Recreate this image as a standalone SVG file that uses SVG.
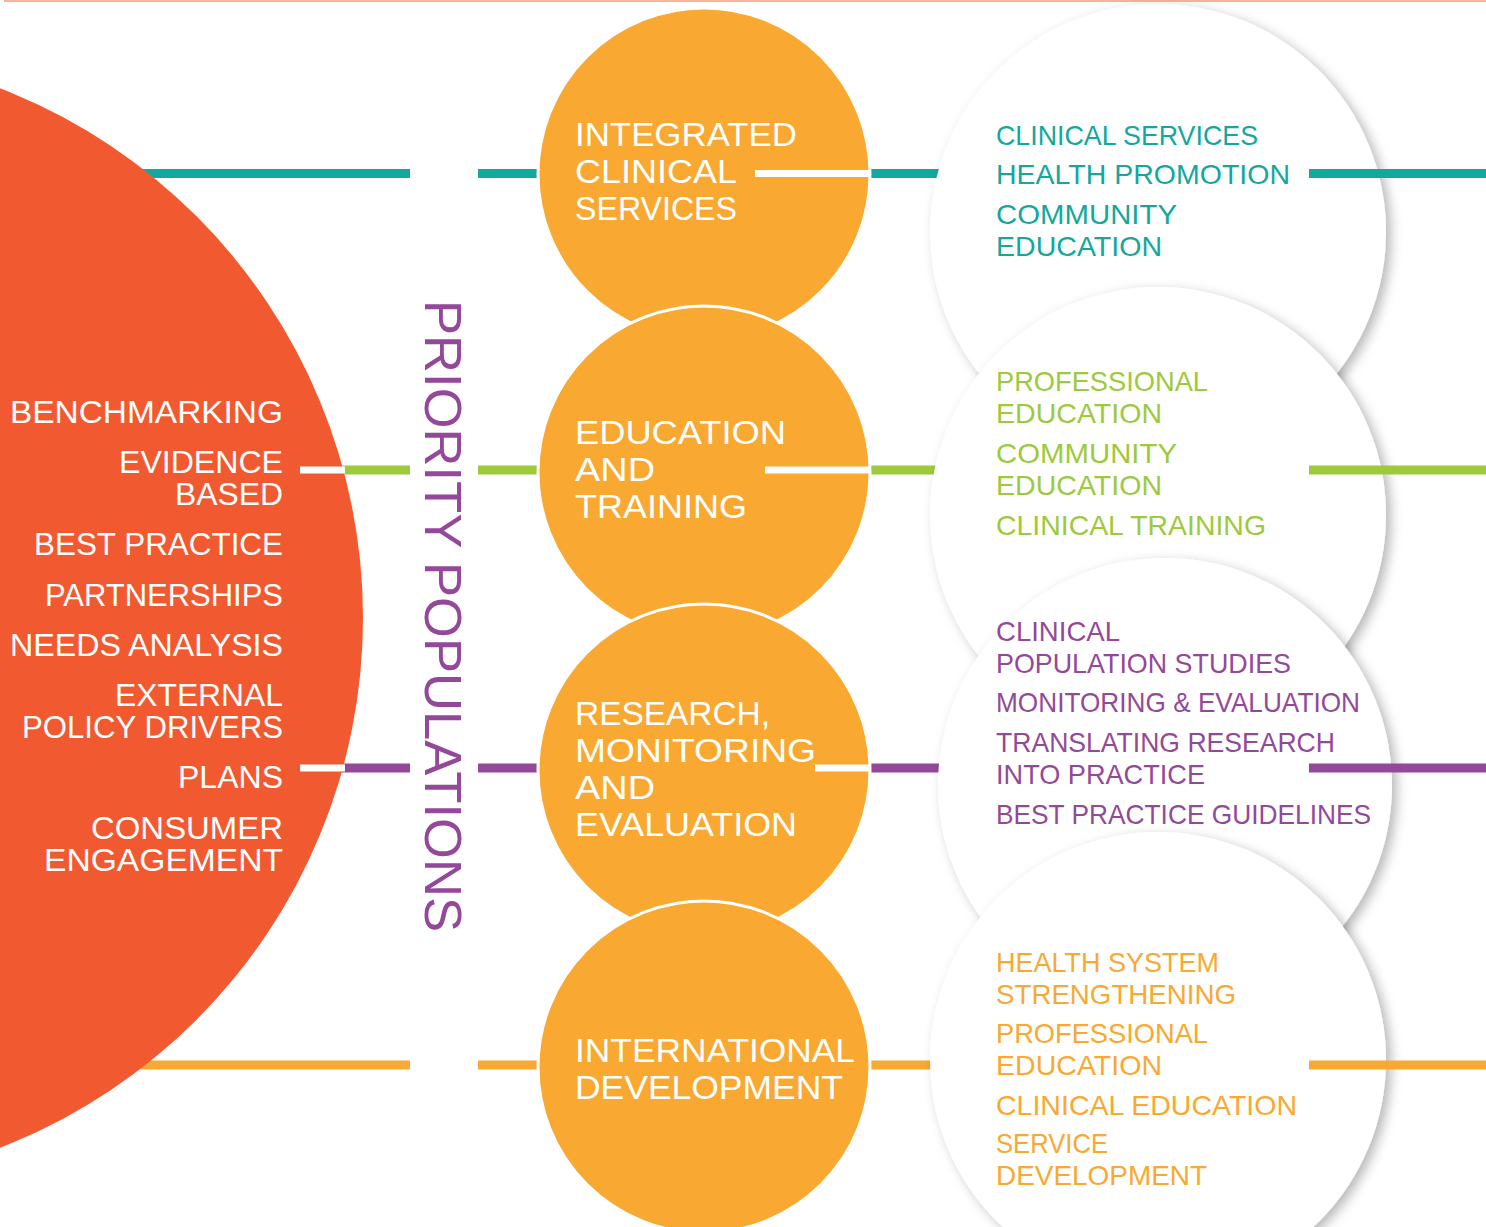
<svg xmlns="http://www.w3.org/2000/svg" width="1486" height="1227" viewBox="0 0 1486 1227">
<defs>
<filter id="sh" x="-20%" y="-20%" width="140%" height="140%">
<feDropShadow dx="5" dy="4" stdDeviation="6" flood-color="#000" flood-opacity="0.28"/>
</filter>
<style>
text{font-family:"Liberation Sans",Arial,sans-serif;}
.lt{font-size:32px;fill:#fff;text-anchor:end;}
.ot{font-size:34px;fill:#fff;}
.rt{font-size:28px;}
.teal{fill:#13a89e;} .green{fill:#9dca3c;} .purple{fill:#94489a;} .orange{fill:#f9a931;}
.ln{stroke-width:9;fill:none;}
.wl{stroke:#fff;stroke-width:7;}
.oc{fill:#f9a931;stroke:#fff;stroke-width:3;}
.wc{fill:#fff;filter:url(#sh);}
</style>
</defs>
<rect width="1486" height="1227" fill="#fff"/>
<line x1="4" y1="1" x2="1486" y2="1" stroke="#f5b49b" stroke-width="2"/>

<g id="connectors-back">
<line class="ln" x1="100" y1="173.5" x2="410" y2="173.5" stroke="#13a89e"/>
<line class="ln" x1="478" y1="173.5" x2="545" y2="173.5" stroke="#13a89e"/>
<line class="ln" x1="865" y1="173.5" x2="1000" y2="173.5" stroke="#13a89e"/>
<line class="ln" x1="100" y1="470" x2="410" y2="470" stroke="#9dca3c"/>
<line class="ln" x1="478" y1="470" x2="545" y2="470" stroke="#9dca3c"/>
<line class="ln" x1="865" y1="470" x2="1000" y2="470" stroke="#9dca3c"/>
<line class="ln" x1="100" y1="768" x2="410" y2="768" stroke="#94489a"/>
<line class="ln" x1="478" y1="768" x2="545" y2="768" stroke="#94489a"/>
<line class="ln" x1="865" y1="768" x2="1000" y2="768" stroke="#94489a"/>
<line class="ln" x1="100" y1="1065" x2="410" y2="1065" stroke="#f9a931"/>
<line class="ln" x1="478" y1="1065" x2="545" y2="1065" stroke="#f9a931"/>
<line class="ln" x1="865" y1="1065" x2="1000" y2="1065" stroke="#f9a931"/>
</g>

<g id="node-drivers">
<circle cx="-205" cy="618" r="568" fill="#f15a31"/>
<text class="lt" x="283" y="423" textLength="273" lengthAdjust="spacingAndGlyphs">BENCHMARKING</text>
<text class="lt" x="283" y="473" textLength="164" lengthAdjust="spacingAndGlyphs">EVIDENCE</text>
<text class="lt" x="283" y="505" textLength="108" lengthAdjust="spacingAndGlyphs">BASED</text>
<text class="lt" x="283" y="555" textLength="249" lengthAdjust="spacingAndGlyphs">BEST PRACTICE</text>
<text class="lt" x="283" y="606" textLength="238" lengthAdjust="spacingAndGlyphs">PARTNERSHIPS</text>
<text class="lt" x="283" y="656" textLength="273" lengthAdjust="spacingAndGlyphs">NEEDS ANALYSIS</text>
<text class="lt" x="283" y="706" textLength="168" lengthAdjust="spacingAndGlyphs">EXTERNAL</text>
<text class="lt" x="283" y="738" textLength="261" lengthAdjust="spacingAndGlyphs">POLICY DRIVERS</text>
<text class="lt" x="283" y="788" textLength="105" lengthAdjust="spacingAndGlyphs">PLANS</text>
<text class="lt" x="283" y="839" textLength="192" lengthAdjust="spacingAndGlyphs">CONSUMER</text>
<text class="lt" x="283" y="871" textLength="239" lengthAdjust="spacingAndGlyphs">ENGAGEMENT</text>
</g>

<g id="node-priority">
<text transform="translate(425,300) rotate(90)" font-size="52" fill="#94489a" textLength="632" lengthAdjust="spacingAndGlyphs">PRIORITY POPULATIONS</text>
</g>

<g id="node-integrated">
<circle class="oc" cx="704" cy="174" r="166"/>
<text class="ot" x="575" y="146" textLength="222" lengthAdjust="spacingAndGlyphs">INTEGRATED</text>
<text class="ot" x="575" y="183" textLength="162" lengthAdjust="spacingAndGlyphs">CLINICAL</text>
<text class="ot" x="575" y="220" textLength="162" lengthAdjust="spacingAndGlyphs">SERVICES</text>
</g>
<g id="node-education">
<circle class="oc" cx="704" cy="472" r="166"/>
<text class="ot" x="575" y="444" textLength="211" lengthAdjust="spacingAndGlyphs">EDUCATION</text>
<text class="ot" x="575" y="481" textLength="80" lengthAdjust="spacingAndGlyphs">AND</text>
<text class="ot" x="575" y="518" textLength="172" lengthAdjust="spacingAndGlyphs">TRAINING</text>
</g>
<g id="node-research">
<circle class="oc" cx="704" cy="770" r="166"/>
<text class="ot" x="575" y="725" textLength="195" lengthAdjust="spacingAndGlyphs">RESEARCH,</text>
<text class="ot" x="575" y="762" textLength="241" lengthAdjust="spacingAndGlyphs">MONITORING</text>
<text class="ot" x="575" y="799" textLength="80" lengthAdjust="spacingAndGlyphs">AND</text>
<text class="ot" x="575" y="836" textLength="222" lengthAdjust="spacingAndGlyphs">EVALUATION</text>
</g>
<g id="node-international">
<circle class="oc" cx="704" cy="1067" r="166"/>
<text class="ot" x="575" y="1062" textLength="280" lengthAdjust="spacingAndGlyphs">INTERNATIONAL</text>
<text class="ot" x="575" y="1099" textLength="268" lengthAdjust="spacingAndGlyphs">DEVELOPMENT</text>
</g>

<g id="connectors-white">
<line class="wl" x1="300" y1="470" x2="345" y2="470"/>
<line class="wl" x1="300" y1="768" x2="345" y2="768"/>
<line class="wl" x1="755" y1="173.5" x2="870" y2="173.5"/>
<line class="wl" x1="765" y1="470" x2="870" y2="470"/>
<line class="wl" x1="815" y1="768" x2="870" y2="768"/>
</g>

<g id="node-clinical-detail">
<circle class="wc" cx="1158" cy="232" r="228"/>
<g class="rt teal">
<text x="996" y="145" textLength="262" lengthAdjust="spacingAndGlyphs">CLINICAL SERVICES</text>
<text x="996" y="184" textLength="294" lengthAdjust="spacingAndGlyphs">HEALTH PROMOTION</text>
<text x="996" y="224" textLength="181" lengthAdjust="spacingAndGlyphs">COMMUNITY</text>
<text x="996" y="256" textLength="166" lengthAdjust="spacingAndGlyphs">EDUCATION</text>
</g>
</g>
<g id="node-education-detail">
<circle class="wc" cx="1158" cy="515" r="228"/>
<g class="rt green">
<text x="996" y="391" textLength="212" lengthAdjust="spacingAndGlyphs">PROFESSIONAL</text>
<text x="996" y="423" textLength="166" lengthAdjust="spacingAndGlyphs">EDUCATION</text>
<text x="996" y="463" textLength="181" lengthAdjust="spacingAndGlyphs">COMMUNITY</text>
<text x="996" y="495" textLength="166" lengthAdjust="spacingAndGlyphs">EDUCATION</text>
<text x="996" y="535" textLength="270" lengthAdjust="spacingAndGlyphs">CLINICAL TRAINING</text>
</g>
</g>
<g id="node-research-detail">
<circle class="wc" cx="1165" cy="785" r="227"/>
<g class="rt purple">
<text x="996" y="641" textLength="124" lengthAdjust="spacingAndGlyphs">CLINICAL</text>
<text x="996" y="673" textLength="295" lengthAdjust="spacingAndGlyphs">POPULATION STUDIES</text>
<text x="996" y="712" textLength="364" lengthAdjust="spacingAndGlyphs">MONITORING &amp; EVALUATION</text>
<text x="996" y="752" textLength="339" lengthAdjust="spacingAndGlyphs">TRANSLATING RESEARCH</text>
<text x="996" y="784" textLength="209" lengthAdjust="spacingAndGlyphs">INTO PRACTICE</text>
<text x="996" y="824" textLength="375" lengthAdjust="spacingAndGlyphs">BEST PRACTICE GUIDELINES</text>
</g>
</g>
<g id="node-international-detail">
<circle class="wc" cx="1158" cy="1060" r="228"/>
<g class="rt orange">
<text x="996" y="972" textLength="223" lengthAdjust="spacingAndGlyphs">HEALTH SYSTEM</text>
<text x="996" y="1004" textLength="240" lengthAdjust="spacingAndGlyphs">STRENGTHENING</text>
<text x="996" y="1043" textLength="212" lengthAdjust="spacingAndGlyphs">PROFESSIONAL</text>
<text x="996" y="1075" textLength="166" lengthAdjust="spacingAndGlyphs">EDUCATION</text>
<text x="996" y="1115" textLength="301" lengthAdjust="spacingAndGlyphs">CLINICAL EDUCATION</text>
<text x="996" y="1153" textLength="112" lengthAdjust="spacingAndGlyphs">SERVICE</text>
<text x="996" y="1185" textLength="211" lengthAdjust="spacingAndGlyphs">DEVELOPMENT</text>
</g>
</g>

<g id="connectors-front">
<line class="ln" x1="1309" y1="173.5" x2="1486" y2="173.5" stroke="#13a89e"/>
<line class="ln" x1="1309" y1="470" x2="1486" y2="470" stroke="#9dca3c"/>
<line class="ln" x1="1309" y1="768" x2="1486" y2="768" stroke="#94489a"/>
<line class="ln" x1="1309" y1="1065" x2="1486" y2="1065" stroke="#f9a931"/>
</g>
</svg>
